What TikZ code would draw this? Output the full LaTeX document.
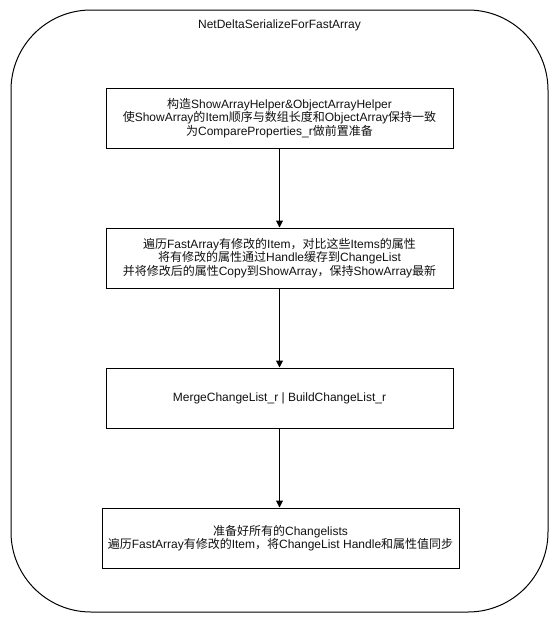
\documentclass[tikz,border=0pt]{standalone}
\usepackage{fontspec}
\setmainfont{Liberation Sans}
\newfontfamily\cjkYazi{Noto Sans CJK SC}
\usetikzlibrary{arrows.meta}
\definecolor{cizgiSiyah}{HTML}{000000}
\definecolor{yaziSiyah}{HTML}{111111}
\newcommand{\zh}[1]{{\cjkYazi #1}}

\begin{document}
\begin{tikzpicture}[x=1pt,y=-1pt,
  adimKutu/.style={draw=cizgiSiyah,line width=1pt,minimum width=347pt,minimum height=60pt,
    inner sep=0pt,align=center,text=yaziSiyah,font=\fontsize{12}{12.5}\selectfont},
  okCizgi/.style={draw=cizgiSiyah,line width=1pt,-{Triangle[length=7pt,width=7pt]}}]
\useasboundingbox (0,0) rectangle (558,624);
% Dis cerceve
\draw[cizgiSiyah,line width=1pt,rounded corners=80pt] (11,10) rectangle (548,612);
\node[text=yaziSiyah,font=\fontsize{12}{14}\selectfont] (baslik) at (279.5,25) {NetDeltaSerializeForFastArray};
% Adimlar
\node[adimKutu] (hazirlik) at (279.5,118) {\zh{构造}ShowArrayHelper\&ObjectArrayHelper\\
  \zh{使}ShowArray\zh{的}Item\zh{顺序与数组长度和}ObjectArray\zh{保持一致}\\
  \zh{为}CompareProperties\_r\zh{做前置准备}};
\node[adimKutu] (karsilastir) at (279.5,258) {\zh{遍历}FastArray\zh{有修改的}Item\zh{，对比这些}Items\zh{的属性}\\
  \zh{将有修改的属性通过}Handle\zh{缓存到}ChangeList\\
  \zh{并将修改后的属性}Copy\zh{到}ShowArray\zh{，保持}ShowArray\zh{最新}};
\node[adimKutu] (birlestir) at (279.5,398) {MergeChangeList\_r | BuildChangeList\_r};
\node[adimKutu,minimum width=357pt] (esitle) at (280.5,538) {\zh{准备好所有的}Changelists\\
  \zh{遍历}FastArray\zh{有修改的}Item\zh{，将}ChangeList Handle\zh{和属性值同步}};
% Oklar
\draw[okCizgi] (hazirlik.south) -- (karsilastir.north);
\draw[okCizgi] (karsilastir.south) -- (birlestir.north);
\draw[okCizgi] (birlestir.south) -- (esitle.north -| birlestir.south);
\end{tikzpicture}
\end{document}
